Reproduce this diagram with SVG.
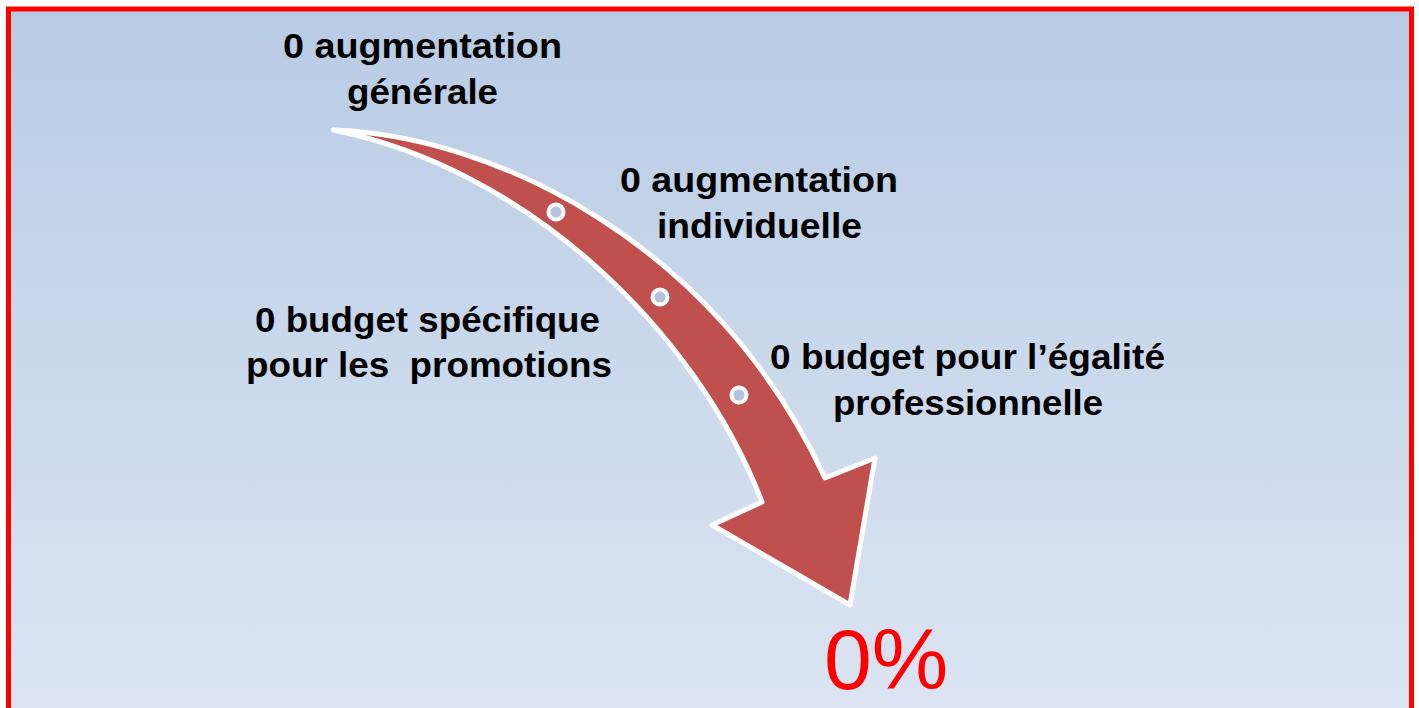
<svg xmlns="http://www.w3.org/2000/svg" width="1419" height="708" viewBox="0 0 1419 708">
  <defs>
    <linearGradient id="bg" x1="0" y1="0" x2="0" y2="1">
      <stop offset="0" stop-color="#B8CCE4"/>
      <stop offset="1" stop-color="#DDE5F3"/>
    </linearGradient>
    <style>
      .lbl { font-family: "Liberation Sans", Arial, sans-serif; font-weight: bold; font-size: 35px; fill: #000; text-anchor: middle; white-space: pre; }
      .pct { font-family: "Liberation Sans", Arial, sans-serif; font-size: 86px; fill: #FF0000; }
      .dot { fill: #B4C4DE; stroke: #FFFFFF; stroke-width: 4; }
    </style>
  </defs>
  <rect x="0" y="0" width="1419" height="708" fill="#FFFFFF"/>
  <rect id="frame" x="8.5" y="9" width="1403" height="720" fill="url(#bg)" stroke="#FF0000" stroke-width="5"/>

  <g id="connectors">
    <path id="arrow" d="M333,130 C490,135 715,240 825,478 L875,458 L850,605 L712,525 L762,502 C695,328 525,168 333,130 Z" fill="#C0504D" stroke="#FFFFFF" stroke-width="5" stroke-linejoin="round"/>
    <circle class="dot" cx="556" cy="212" r="7.5"/>
    <circle class="dot" cx="660" cy="297" r="7.5"/>
    <circle class="dot" cx="739" cy="395" r="7.5"/>
  </g>

  <g id="node-generale">
    <text class="lbl" x="422.5" y="58" textLength="279" lengthAdjust="spacingAndGlyphs">0 augmentation</text>
    <text class="lbl" x="422.5" y="104" textLength="151" lengthAdjust="spacingAndGlyphs">générale</text>
  </g>
  <g id="node-individuelle">
    <text class="lbl" x="759" y="192" textLength="278" lengthAdjust="spacingAndGlyphs">0 augmentation</text>
    <text class="lbl" x="759.5" y="238" textLength="205" lengthAdjust="spacingAndGlyphs">individuelle</text>
  </g>
  <g id="node-promotions">
    <text class="lbl" x="427.5" y="332" textLength="345" lengthAdjust="spacingAndGlyphs">0 budget spécifique</text>
    <text class="lbl" x="429" y="377" textLength="366" lengthAdjust="spacingAndGlyphs">pour les  promotions</text>
  </g>
  <g id="node-egalite">
    <text class="lbl" x="967.5" y="369" textLength="395" lengthAdjust="spacingAndGlyphs">0 budget pour l’égalité</text>
    <text class="lbl" x="968" y="415" textLength="270" lengthAdjust="spacingAndGlyphs">professionnelle</text>
  </g>
  <g id="node-result">
    <text class="pct" x="824" y="689">0%</text>
  </g>
</svg>
